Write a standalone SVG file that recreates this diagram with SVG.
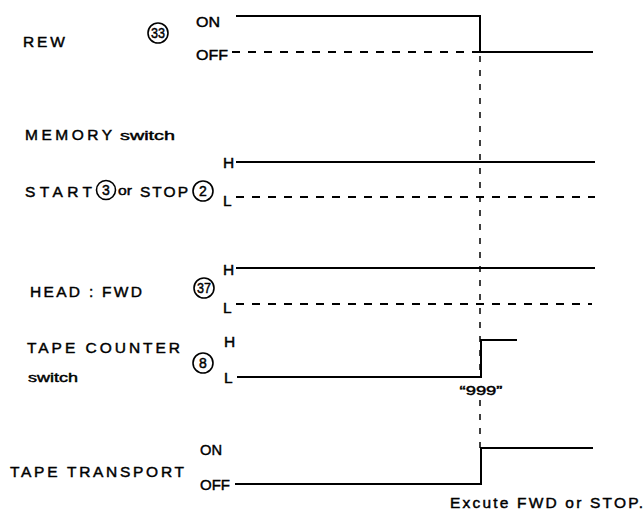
<svg xmlns="http://www.w3.org/2000/svg" width="644" height="513" viewBox="0 0 644 513">
<style>
text{font-family:"Liberation Sans",Arial,sans-serif;fill:#000;stroke:#000;stroke-width:0.45}
.lb{font-size:15.5px}
.sm{font-size:13.5px}
.cn{font-size:14px;text-anchor:middle}
.w{fill:none;stroke:#000;stroke-width:2}
.d{fill:none;stroke:#000;stroke-width:2;stroke-dasharray:8 8}
.v{fill:none;stroke:#000;stroke-width:1.5;stroke-dasharray:6 8}
.c{fill:none;stroke:#000;stroke-width:1.6}
</style>
<rect width="644" height="513" fill="#fff"/>
<g id="rew">
<text class="lb" x="23" y="47" textLength="42" lengthAdjust="spacing">REW</text>
<circle class="c" cx="158" cy="33" r="10"/><text class="cn" x="158" y="38" textLength="14" lengthAdjust="spacingAndGlyphs">33</text>
<text class="lb" x="196" y="27" textLength="24" lengthAdjust="spacingAndGlyphs">ON</text>
<text class="lb" x="196" y="60" textLength="32" lengthAdjust="spacingAndGlyphs">OFF</text>
<polyline class="w" points="236,16 480,16 480,52 593,52"/>
<line class="d" x1="232" y1="52" x2="480" y2="52"/>
</g>
<g id="memory">
<text class="lb" x="25" y="140" textLength="87" lengthAdjust="spacing">MEMORY</text>
<text class="sm" x="120" y="140" textLength="55" lengthAdjust="spacingAndGlyphs">switch</text>
<text class="lb" x="25" y="197" textLength="67" lengthAdjust="spacing">START</text>
<circle class="c" cx="106" cy="190" r="9.5"/><text class="cn" x="106" y="195">3</text>
<text class="sm" x="118" y="195" textLength="14" lengthAdjust="spacingAndGlyphs">or</text>
<text class="lb" x="140" y="197" textLength="48" lengthAdjust="spacing">STOP</text>
<circle class="c" cx="203" cy="191" r="10"/><text class="cn" x="203" y="196">2</text>
<text class="lb" x="223" y="168">H</text>
<text class="lb" x="223" y="206">L</text>
<line class="w" x1="236" y1="162" x2="595" y2="162"/>
<line class="d" x1="236" y1="197" x2="595" y2="197"/>
</g>
<g id="head">
<text class="lb" x="30" y="297" textLength="112" lengthAdjust="spacing">HEAD : FWD</text>
<circle class="c" cx="204" cy="288" r="10"/><text class="cn" x="204" y="293" textLength="14" lengthAdjust="spacingAndGlyphs">37</text>
<text class="lb" x="223" y="275">H</text>
<text class="lb" x="223" y="313">L</text>
<line class="w" x1="236" y1="268" x2="595" y2="268"/>
<line class="d" x1="236" y1="304" x2="592" y2="304"/>
</g>
<g id="counter">
<text class="lb" x="27" y="353" textLength="153" lengthAdjust="spacing">TAPE COUNTER</text>
<text class="sm" x="28" y="382" textLength="50" lengthAdjust="spacingAndGlyphs">switch</text>
<circle class="c" cx="203" cy="363" r="10"/><text class="cn" x="203" y="368">8</text>
<text class="lb" x="224" y="347">H</text>
<text class="lb" x="224" y="383">L</text>
<polyline class="w" points="237,377 481,377 481,340 517,340"/>
<text class="sm" x="481" y="395" text-anchor="middle" textLength="43" lengthAdjust="spacingAndGlyphs">“999”</text>
</g>
<g id="transport">
<text class="lb" x="10" y="477" textLength="174" lengthAdjust="spacing">TAPE TRANSPORT</text>
<text class="lb" x="200" y="455" textLength="22" lengthAdjust="spacingAndGlyphs">ON</text>
<text class="lb" x="200" y="490" textLength="30" lengthAdjust="spacingAndGlyphs">OFF</text>
<polyline class="w" points="235,484 481,484 481,448 593,448"/>
<text class="lb" x="450" y="508" textLength="193" lengthAdjust="spacing">Excute FWD or STOP.</text>
</g>
<g id="connectors">
<line class="v" x1="480" y1="56" x2="480" y2="376"/>
<line class="v" x1="480" y1="400" x2="480" y2="448"/>
</g>
</svg>
